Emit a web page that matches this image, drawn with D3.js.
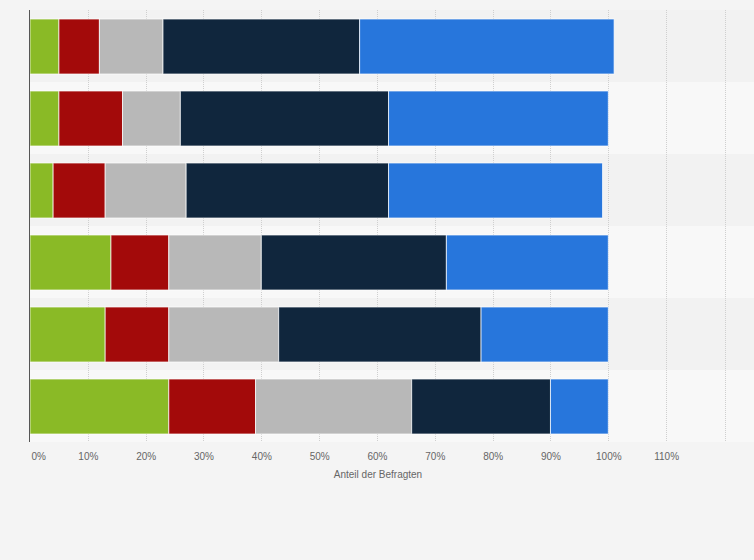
<!DOCTYPE html>
<html>
<head>
<meta charset="utf-8">
<script src="https://cdn.jsdelivr.net/npm/d3@7"></script>
<style>
    html, body { margin: 0; padding: 0; background: #f4f4f4; }
    svg { display: block; font-family: "Liberation Sans", Arial, sans-serif; }
    .tick text { fill: #666; font-size: 10px; }
    .axis-title { fill: #666; font-size: 10px; }
</style>
</head>
<body>
<svg id="chart"></svg>
<script>
    // one entry per bar, top to bottom (no row labels in the source picture)
    const rows = ["1", "2", "3", "4", "5", "6"];
    const seriesKeys = ["s1", "s2", "s3", "s4", "s5"];
    const seriesColors = ["#8aba26", "#a30a0a", "#b8b8b8", "#10263d", "#2776dc"];

    const s1Values = [5, 5, 4, 14, 13, 24];
    const s2Values = [7, 11, 9, 10, 11, 15];
    const s3Values = [11, 10, 14, 16, 19, 27];
    const s4Values = [34, 36, 35, 32, 35, 24];
    const s5Values = [44, 38, 37, 28, 22, 10];

    const xTicks = [0, 10, 20, 30, 40, 50, 60, 70, 80, 90, 100, 110];
    const xTitle = "Anteil der Befragten";

    const width = 754;
    const height = 560;
    const margin = { top: 10, right: 28, bottom: 118, left: 30 };
    const plotRight = width - margin.right;

    const svg = d3.select("#chart")
        .attr("width", width)
        .attr("height", height);

    const table = rows.map((r, i) => ({
        row: r,
        s1: s1Values[i],
        s2: s2Values[i],
        s3: s3Values[i],
        s4: s4Values[i],
        s5: s5Values[i]
    }));

    // 100% sits at ~608px in the reference, plot keeps going to ~726px
    const x = d3.scaleLinear()
        .domain([0, 100])
        .range([margin.left, 608.3]);

    const y = d3.scaleBand()
        .domain(rows)
        .range([margin.top, height - margin.bottom])
        .paddingInner(0)
        .paddingOuter(0);

    // alternating row stripes
    svg.append("g")
        .selectAll("rect")
        .data(rows)
        .join("rect")
        .attr("x", margin.left)
        .attr("y", d => y(d))
        .attr("width", width - margin.left)
        .attr("height", y.bandwidth())
        .attr("fill", (d, i) => i % 2 === 0 ? "#f2f2f2" : "#f8f8f8");

    // dotted grid lines
    const gridX = xTicks.filter(d => d > 0).map(d => Math.round(x(d)) + 0.5).concat([plotRight - 0.5]);
    svg.append("g")
        .selectAll("line")
        .data(gridX)
        .join("line")
        .attr("x1", d => d)
        .attr("x2", d => d)
        .attr("y1", margin.top)
        .attr("y2", height - margin.bottom)
        .attr("stroke", "#cfcfcf")
        .attr("stroke-width", 1)
        .attr("stroke-dasharray", "1,1");

    const stack = d3.stack().keys(seriesKeys);
    const stacked = stack(table);

    const barPad = 9;
    const barHeight = y.bandwidth() - 2 * barPad + 1;

    svg.append("g")
        .selectAll("g")
        .data(stacked)
        .join("g")
        .attr("fill", (d, i) => seriesColors[i])
        .selectAll("rect")
        .data(d => d)
        .join("rect")
        .attr("x", d => x(d[0]))
        .attr("y", d => y(d.data.row) + barPad)
        .attr("width", d => x(d[1]) - x(d[0]))
        .attr("height", barHeight)
        .attr("stroke", "#ffffff")
        .attr("stroke-opacity", 0.7)
        .attr("stroke-width", 1);

    // x axis
    const xAxis = svg.append("g")
        .attr("transform", `translate(0,${height - margin.bottom})`)
        .call(d3.axisBottom(x)
            .tickValues(xTicks)
            .tickFormat(d => d + "%")
            .tickSize(0)
            .tickPadding(11));
    xAxis.select(".domain").remove();
    xAxis.selectAll(".tick text")
        .filter(d => d === 0)
        .attr("text-anchor", "start")
        .attr("dx", 1);

    // left axis line
    svg.append("line")
        .attr("x1", margin.left - 0.5)
        .attr("x2", margin.left - 0.5)
        .attr("y1", margin.top)
        .attr("y2", height - margin.bottom)
        .attr("stroke", "#555")
        .attr("stroke-width", 1);

    svg.append("text")
        .attr("class", "axis-title")
        .attr("x", (margin.left + plotRight) / 2)
        .attr("y", height - margin.bottom + 36)
        .attr("text-anchor", "middle")
        .text(xTitle);
</script>
</body>
</html>
